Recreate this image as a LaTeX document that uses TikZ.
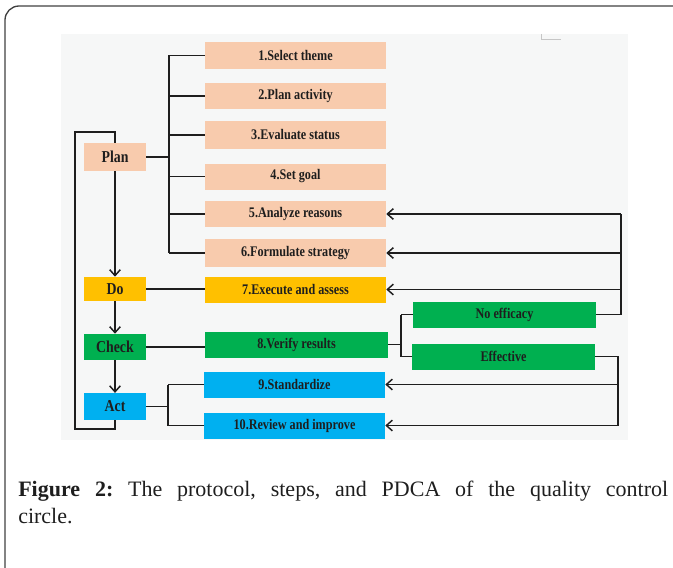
\documentclass[tikz,border=0pt]{standalone}
\usepackage{fontspec}
\setmainfont{Liberation Serif}
\newfontfamily\labelfont[FakeStretch=0.83]{Liberation Serif}
\usetikzlibrary{arrows.meta}
\definecolor{peach}{RGB}{248,203,173}
\definecolor{gold}{RGB}{255,192,0}
\definecolor{leaf}{RGB}{0,176,80}
\definecolor{sky}{RGB}{0,176,240}
\definecolor{panel}{RGB}{246,247,247}
\definecolor{ink}{RGB}{30,30,30}
\frenchspacing

\begin{document}
\begin{tikzpicture}[x=0.75pt,y=-0.75pt,
  stepbox/.style={minimum width=135.75pt, minimum height=19.5pt, inner sep=0pt,
    font=\labelfont\bfseries\fontsize{11}{12}\selectfont, text=ink},
  phasebox/.style={minimum width=46.5pt, minimum height=20pt, inner sep=0pt,
    font=\labelfont\bfseries\fontsize{12.5}{14}\selectfont, text=ink},
  link/.style={line width=1.1pt, draw=ink},
  feed/.style={link, -{Straight Barb[length=4.5pt,width=8pt]}},
  flow/.style={link, -{Straight Barb[length=4.5pt,width=8pt]}},
  captext/.style={anchor=base west, inner sep=0pt, text=ink, font=\fontsize{16.5}{19}\selectfont}]

\useasboundingbox (0,0) rectangle (673,567);

% outer frame and panel
\draw[line width=1pt, draw=ink!85, rounded corners=10.5pt] (5,6) rectangle (720,620);
\fill[panel] (61,34) rectangle (628,440);
\draw[gray!45, line width=0.6pt] (541,34) -- (541,39) -- (561,39);

% PDCA phases
\node[phasebox, fill=peach, minimum height=21pt] (plan)  at (115,157)   {Plan};
\node[phasebox, fill=gold,  minimum height=18pt] (do)    at (115,289)   {Do};
\node[phasebox, fill=leaf,  minimum height=19.5pt] (check) at (115,347) {Check};
\node[phasebox, fill=sky,   minimum height=20pt] (act)   at (115,406.5) {Act};

% steps
\node[stepbox, fill=peach] (s1)  at (295.5,55.5)  {1.Select theme};
\node[stepbox, fill=peach] (s2)  at (295.5,96)    {2.Plan activity};
\node[stepbox, fill=peach, minimum height=21pt] (s3)  at (295.5,135) {3.Evaluate status};
\node[stepbox, fill=peach] (s4)  at (295.5,176.5) {4.Set goal};
\node[stepbox, fill=peach] (s5)  at (295.5,214)   {5.Analyze reasons};
\node[stepbox, fill=peach, minimum height=21pt] (s6)  at (295.5,253) {6.Formulate strategy};
\node[stepbox, fill=gold]  (s7)  at (295.5,289.5) {7.Execute and assess};
\node[stepbox, fill=leaf, minimum width=137pt] (s8) at (296.5,344.5) {8.Verify results};
\node[stepbox, fill=sky]   (s9)  at (294.5,384.5) {9.Standardize};
\node[stepbox, fill=sky]   (s10) at (294.5,425.5) {10.Review and improve};

% outcomes
\node[stepbox, fill=leaf, minimum width=137.25pt] (noeff) at (504.5,314.5) {No efficacy};
\node[stepbox, fill=leaf, minimum width=137.25pt] (eff)   at (503.5,356.5) {Effective};

% junction columns
\coordinate (planj)  at (169,0);
\coordinate (actj)   at (168,0);
\coordinate (verj)   at (401,0);
\coordinate (backA)  at (621,0);
\coordinate (backB)  at (618,0);
\coordinate (loopx)  at (75,132);

% Plan tree
\draw[link] (plan.east) -- (plan.east -| planj);
\draw[link] (s1.west -| planj) -- (s6.west -| planj);
\foreach \i in {1,...,6} \draw[link] (s\i.west -| planj) -- (s\i.west);

% Do, Check links
\draw[link] (do.east) -- (do.east -| s7.west);
\draw[link] (check.east) -- (check.east -| s8.west);

% Act tree
\draw[link] (act.east) -- (act.east -| actj);
\draw[link] (s9.west -| actj) -- (s10.west -| actj);
\draw[link] (s9.west -| actj) -- (s9.west);
\draw[link] (s10.west -| actj) -- (s10.west);

% result split
\draw[link] (s8.east) -- (s8.east -| verj);
\draw[link] (noeff.west -| verj) -- (eff.west -| verj);
\draw[link] (noeff.west -| verj) -- (noeff.west);
\draw[link] (eff.west -| verj) -- (eff.west);

% feedback: no efficacy
\draw[link] (noeff.east) -- (noeff.east -| backA) -- (s5.east -| backA);
\draw[feed] (s5.east -| backA) -- (s5.east);
\draw[feed] (s6.east -| backA) -- (s6.east);
\draw[feed] (s7.east -| backA) -- (s7.east);

% feedback: effective
\draw[link] (eff.east) -- (eff.east -| backB) -- (s10.east -| backB);
\draw[feed] (s9.east -| backB) -- (s9.east);
\draw[feed] (s10.east -| backB) -- (s10.east);

% PDCA flow
\draw[flow] (plan) -- (do);
\draw[flow] (do) -- (check);
\draw[flow] (check) -- (act);
\draw[link] (act.south) -- ++(0,9) -| (loopx) -| (plan.north);

% caption
\node[captext] (cap1) at (18,496)
  {\makebox[487.5pt][s]{\textbf{Figure 2:} The protocol, steps, and PDCA of the quality control}};
\node[captext] (cap2) at (18,523) {circle.};
\end{tikzpicture}
\end{document}
